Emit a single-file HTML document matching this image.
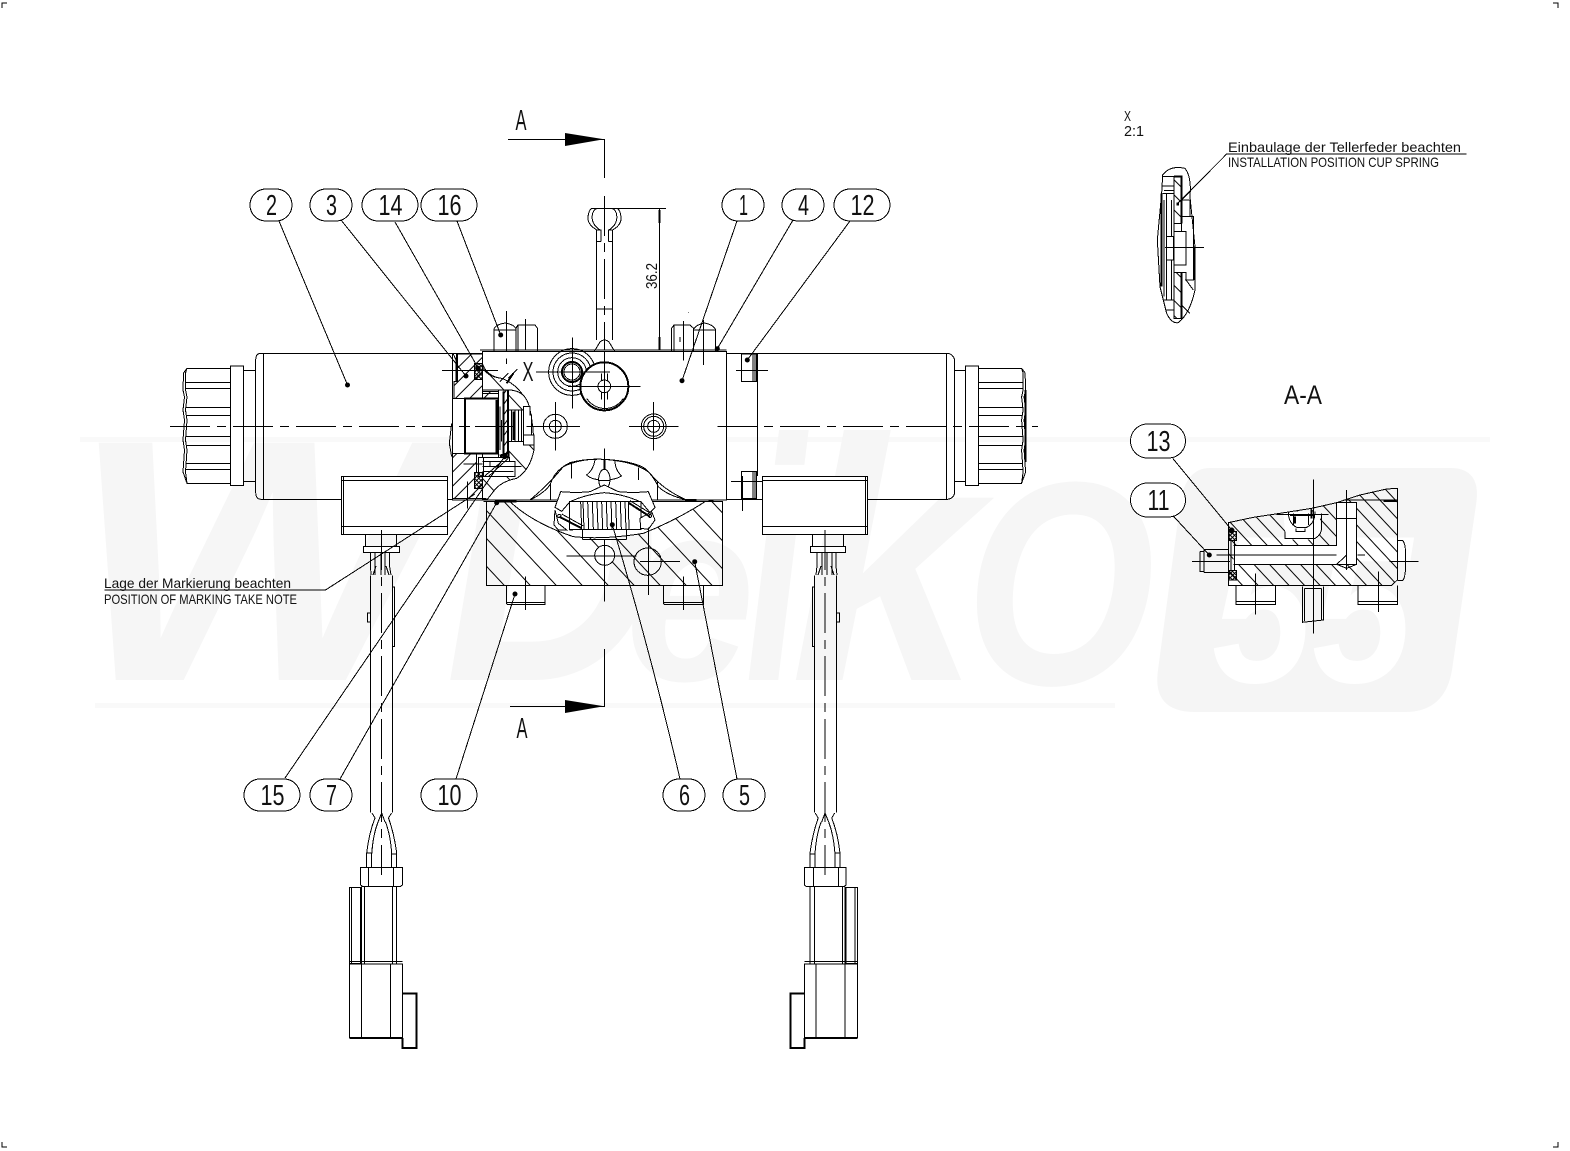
<!DOCTYPE html>
<html><head><meta charset="utf-8"><title>Widerko valve assembly</title>
<style>
html,body{margin:0;padding:0;background:#fff}
svg{display:block}
.l *,.l{fill:none;stroke:#000;stroke-width:1;vector-effect:non-scaling-stroke}
.l .t{stroke-width:2}
.l .w{fill:#fff}
.l .hp{fill:url(#hp)}
.l .hm{fill:url(#hm)}
.l .hs{fill:url(#hs)}
.l .ha{fill:url(#ha)}
.l .hx{fill:url(#hx)}
.l .hr{fill:url(#hr)}
.l .c{stroke-dasharray:40 7 9 7}
text{font-family:"Liberation Sans",sans-serif;fill:#111}
text.wm{font-weight:bold;font-style:italic;fill:#f6f6f6}
text.wn{font-weight:bold;font-style:italic;fill:#fff}
.b{font-size:29px;text-anchor:middle}
.s{font-size:14px}
</style></head><body>
<svg xmlns="http://www.w3.org/2000/svg" width="1570" height="1151" viewBox="0 0 1570 1151">
<defs>
<pattern id="hp" width="57" height="57" patternUnits="userSpaceOnUse" patternTransform="rotate(47)"><rect width="57" height="3" fill="#000"/></pattern>
<pattern id="hm" width="30" height="30" patternUnits="userSpaceOnUse" patternTransform="rotate(-45)"><rect width="30" height="3" fill="#000"/></pattern>
<pattern id="hs" width="32" height="32" patternUnits="userSpaceOnUse" patternTransform="rotate(45)"><rect width="32" height="3" fill="#000"/></pattern>
<pattern id="ha" width="34" height="34" patternUnits="userSpaceOnUse" patternTransform="rotate(47)"><rect width="34" height="3" fill="#000"/></pattern>
<pattern id="hx" width="9" height="9" patternUnits="userSpaceOnUse" patternTransform="rotate(45)"><rect width="9" height="3" fill="#000"/><rect width="3" height="9" fill="#000"/></pattern>
<pattern id="hr" width="18" height="18" patternUnits="userSpaceOnUse" patternTransform="rotate(-55)"><rect width="18" height="3" fill="#000"/></pattern>
</defs>

<!-- watermark -->
<g>
<rect x="80" y="437" width="1410" height="5" fill="#f9f9f9"/>
<rect x="95" y="703" width="1020" height="5" fill="#f9f9f9"/>
<text class="wm" x="70" y="680" font-size="345" textLength="370" lengthAdjust="spacingAndGlyphs">W</text>
<text class="wm" x="445" y="680" font-size="345" textLength="215" lengthAdjust="spacingAndGlyphs">D</text>
<text class="wm" x="625" y="680" font-size="260" textLength="130" lengthAdjust="spacingAndGlyphs">e</text>
<text class="wm" x="745" y="680" font-size="345" textLength="60" lengthAdjust="spacingAndGlyphs">i</text>
<text class="wm" x="790" y="680" font-size="345" textLength="190" lengthAdjust="spacingAndGlyphs">k</text>
<text class="wm" x="965" y="684" font-size="290" textLength="190" lengthAdjust="spacingAndGlyphs">O</text>
<path d="M1210,468 H1450 Q1482,468 1476,505 L1452,670 Q1445,712 1405,712 H1195 Q1152,712 1158,670 L1180,505 Q1185,468 1210,468Z" fill="#f5f5f5"/>
<text class="wn" x="1212" y="682" font-size="210" textLength="200" lengthAdjust="spacingAndGlyphs">55</text>
</g>

<g class="l" shape-rendering="crispEdges">
<!-- corner marks -->
<path d="M2,8 V3 H7 M1553,3 H1558 V8 M2,1142 V1147 H7 M1553,1147 H1558 V1142"/>

<!-- left knob, mirrored to the right -->
<g>
<path d="M230.3,368.3 H187 L183.5,373 L183,390 L184.5,397 L183,410 L184.5,420 L183,440 L184.5,450 L183,472 L187,483.3 H230.3"/>
<path d="M187,368.3 L185.5,373 L185.5,390 L187,397 L185.5,410 L187,420 L185.5,440 L187,450 L185.5,472 L187,483.3"/>
<path d="M186,382.3 H230 M186,388.3 H230 M186,407.3 H230 M186,415.3 H230 M186,436.3 H230 M186,445.3 H230 M186,463.3 H230 M186,469.3 H230"/>
<rect class="w" x="230.3" y="366" width="13" height="119.7"/>
<path d="M243.3,370.3 H255.7 M243.3,481.3 H255.7"/>
</g>
<g transform="translate(1208.6 0) scale(-1 1)">
<path d="M230.3,368.3 H187 L183.5,373 L183,390 L184.5,397 L183,410 L184.5,420 L183,440 L184.5,450 L183,472 L187,483.3 H230.3"/>
<path d="M187,368.3 L185.5,373 L185.5,390 L187,397 L185.5,410 L187,420 L185.5,440 L187,450 L185.5,472 L187,483.3"/>
<path class="t" d="M183,390 V462"/>
<path d="M186,382.3 H230 M186,388.3 H230 M186,407.3 H230 M186,415.3 H230 M186,436.3 H230 M186,445.3 H230 M186,463.3 H230 M186,469.3 H230"/>
<rect class="w" x="230.3" y="366" width="13" height="119.7"/>
<path d="M243.3,370.3 H254 M243.3,481.3 H254"/>
</g>

<!-- coils -->
<path d="M452,353.3 H261 Q255.7,353.3 255.7,360 V492 Q255.7,499.3 261,499.3 H341.7"/>
<path d="M263.7,353.3 V499.3"/>
<path d="M447.3,499.3 H482"/>
<path d="M712,353.3 H948 Q954.7,355 954.7,362 V491 Q954.7,498 948,499.3 H867.7"/>
<path d="M946.7,353.3 V499.3 M757.3,353.3 V476 M726,499.3 H762.3"/>

<!-- small right rects -->
<rect x="741.3" y="354" width="15.4" height="27.3"/>
<path d="M753,354 V381 M755,354 V381"/>
<rect x="741.3" y="471.3" width="15.4" height="27.4"/>
<path d="M753,471 V499 M755,471 V499"/>
<path class="t" d="M742,476 V499"/>
<path d="M736,370.3 H768 M731,481.3 H768 M742.5,498 V511"/>

<!-- connector boxes -->
<rect class="w" x="341.7" y="476.3" width="105.6" height="58"/>
<path d="M343.7,476.3 V534 M341.7,480.3 H447.3 M341.7,526.3 H447.3"/>
<rect class="w" x="762.3" y="476.3" width="105.4" height="58"/>
<path d="M865.7,476.3 V534 M762.3,480.3 H867.7 M762.3,526.3 H867.7"/>
<path d="M365.3,534 V546 M396.7,534 V546 M812.3,534 V546 M843.7,534 V546"/>
<rect class="w" x="363.3" y="546.3" width="36.4" height="6"/>
<rect class="w" x="810.3" y="546.3" width="35.4" height="6"/>

<!-- cable left -->
<path d="M370.5,552 V566 L371,575 M375,552 V575 M381,552 V575 M385,552 V575 M389.5,552 V566 L391,575 M376,566 L373,575 M386,566 L389,575"/>
<path d="M370.5,575.3 V812.7 M392.3,575.3 V812.7"/>
<path d="M392.3,587 H394.5 V646.7 H392.3 M370.5,613 H367.5 V622 H370.5"/>
<!-- cable right -->
<path d="M817,552 V566 L816,575 M822,552 V575 M827,552 V575 M832,552 V575 M836,552 V566 L837,575 M821,566 L818,575 M831,566 L834,575"/>
<path d="M814.5,575.3 V812.7 M836.3,575.3 V812.7"/>
<path d="M814.5,587 H812.5 V646.7 H814.5 M836.3,613 H839.5 V622 H836.3"/>

<!-- connector lower left -->
<g>
<path d="M375,818 Q369,833 366.7,853 V867 M378,822 Q373,835 371.7,854 V867 M381.7,813 L378,822 M381.7,813 L385,822 M388.5,818 Q394,833 396.7,853 V867 M385.5,822 Q390.5,835 391.7,854 V867 M366.7,853 H371.7 M391.7,854 H396.7 M372,813 L375,818 M391.5,813 L388.5,818"/>
<path d="M360.7,867.7 H402.3 V885 L400,886.7 H363 L360.7,885 Z"/>
<path d="M368.3,867.7 V886.7 M393.3,867.7 V886.7"/>
<path d="M361.7,886.7 V963.3 M396.7,886.7 V963.3 M364.3,886.7 V963.3 M392.3,886.7 V963.3"/>
<rect x="349.3" y="887.3" width="11.4" height="76"/>
<path d="M351.7,887.3 V963"/>
<path d="M349.3,964 H402.3 V1038 M349.3,964 V1038 M361.7,964 V1038 M390.7,964 V1038"/>
<path d="M349.3,961.5 H402.3"/>
<path class="t" d="M349.3,1038 H402.3"/>
<path class="t" d="M402.3,993.3 H416.3 V1048 H402.3 V1038"/>
</g>
<g transform="translate(1206.7 0) scale(-1 1)">
<path d="M375,818 Q369,833 366.7,853 V867 M378,822 Q373,835 371.7,854 V867 M381.7,813 L378,822 M381.7,813 L385,822 M388.5,818 Q394,833 396.7,853 V867 M385.5,822 Q390.5,835 391.7,854 V867 M366.7,853 H371.7 M391.7,854 H396.7 M372,813 L375,818 M391.5,813 L388.5,818"/>
<path d="M360.7,867.7 H402.3 V885 L400,886.7 H363 L360.7,885 Z"/>
<path d="M368.3,867.7 V886.7 M393.3,867.7 V886.7"/>
<path d="M361.7,886.7 V963.3 M396.7,886.7 V963.3 M364.3,886.7 V963.3 M392.3,886.7 V963.3"/>
<rect x="349.3" y="887.3" width="11.4" height="76"/>
<path d="M351.7,887.3 V963"/>
<path d="M349.3,964 H402.3 V1038 M349.3,964 V1038 M361.7,964 V1038 M390.7,964 V1038"/>
<path d="M349.3,961.5 H402.3"/>
<path class="t" d="M349.3,1038 H402.3"/>
<path class="t" d="M402.3,993.3 H416.3 V1048 H402.3 V1038"/>
</g>

<!-- centre lines of cables and coils -->
<path class="c" d="M381.7,530 V875"/>
<path class="c" d="M825,530 V875"/>
<path class="c" d="M170,426.3 H452"/>
<path class="c" d="M717,426.3 H1038"/>

<!-- top rod, ball end, section line -->
<path d="M508,139.3 H604.3 V178"/>
<path d="M588.3,215 Q586,224 597,230 H601 V241.7 M592.3,215 Q591,224 600,230 M620.7,215 Q623,224 612.7,230 H608.7 V241.7 M616.7,215 Q618,224 609,230 M596.7,241.7 H601 M608.7,241.7 H612.7"/>
<path d="M588.3,215 Q589,210 592,208.3 M592.3,215 Q593,210 597,208.3 M620.7,215 Q620,210 617,208.3 M616.7,215 Q616,210 612,208.3"/>
<path d="M596.7,230 V340 M612.7,230 V340 M596.7,309 H612.7"/>
<path d="M594.5,351 L600,342 Q604.5,338 609,342 L614.5,351"/>
<path d="M592,208.3 H666 M659.3,208.3 V350"/>
<path class="t" d="M659.3,210 V223 M659.3,337 V350"/>
<path class="c" d="M604.3,196 V350"/>

<!-- top bolts -->
<path d="M494,351 V330 Q494,325 505,323 Q516,325 516,330 V351 M494,330 H516"/>
<path d="M516,351 V328 L518,325 H535 L537.3,328 V351 M518,325 V351"/>
<path d="M671.7,351 V328 L674,325 H690 L693.3,328 V351 M674,325 V351"/>
<path d="M693.3,351 V330 Q695,325 704.5,323 Q714,325 715.7,330 V351 M693.3,330 H715.7"/>
<path d="M506.5,321 V362 M525.7,320 V342 M683.3,322 V360 M703.5,322 V364"/>
<path d="M688,312.5 H688.5 M680,337 V342"/>

<!-- main block and section: zoom coordinates -->
<g transform="translate(430 310) scale(.33333)">
<path class="w" d="M157,124 H889 V570 H157 Z" />
<path stroke="none" class="w" d="M68,130 H157 V570 H68 Z"/>
<path d="M150,120 H889 M160,124 H889 M889,124 V570 M160,570 H889" />
<path d="M60,130 H157 M157,124 V570 M68,130 V565 H170"/>
<path d="M80,132 V215 M70,132 L78,150 V215 H70"/>

<!-- hatched housing -->
<path class="hm" stroke="none" d="M82,132 H157 V245 H215 V265 H72 V215 H82 Z"/>
<path class="hm" stroke="none" d="M68,430 H140 V487 H157 V566 H68 Z"/>
<path class="hp" stroke="none" d="M157,170 Q170,200 215,205 Q270,225 298,290 Q312,350 312,420 Q300,480 260,505 Q210,515 190,545 L172,568 H157 V500 H250 V455 H235 V240 H157 Z"/>
<path d="M157,160 Q170,200 215,205 Q270,225 298,290 Q312,350 312,420 Q300,480 260,505 Q210,515 190,545 L172,568"/>
<path d="M68,265 H105 M68,430 H140 M65,340 L58,400 L65,440"/>
<!-- spool bore -->
<rect class="w t" x="105" y="265" width="100" height="165"/>
<path class="t" d="M200,270 V430"/>
<path d="M157,240 H215 V250 H157 M205,265 L215,250"/>
<!-- cup spring stack -->
<rect class="w" x="205" y="240" width="30" height="215"/>
<path class="hr" d="M222,240 H233 V455 H222 Z"/>
<path d="M210,290 V420 M215,330 V395 M205,340 V350"/>
<path class="t" d="M202,280 V430 M220,245 V435"/>
<path class="w" d="M235,300 H280 V395 H235 Z"/>
<path d="M245,300 V395 M255,300 V395 M265,300 V395 M275,300 V395"/>
<path class="t" d="M250,305 V390"/>
<path class="w" d="M280,290 H300 V315 H305 V375 H280 Z"/>
<path class="w" d="M280,375 H312 V405 H280 Z"/>
<path class="w" d="M235,240 Q285,240 298,290"/>
<path class="w t" d="M212,436 Q222,465 235,455 V430 Z"/>
<circle cx="223" cy="442" r="9"/>
<!-- lower internal parts -->
<path class="w" d="M145,442 H238 V455 H255 V500 H145 Z"/>
<path d="M158,455 H240 M158,470 H275 M158,484 H250 M160,442 V500 M180,455 V470 M145,445 V495 M100,462 H158"/>
<path d="M162,500 L215,455 M175,500 L235,445 M210,215 L235,190"/>
<!-- seals -->
<rect class="hx" x="133" y="160" width="24" height="48"/>
<rect class="hx" x="133" y="487" width="24" height="48"/>
<path d="M112,515 V595"/>

<!-- section X mark -->
<path d="M318,186 H358"/>
<path d="M262,178 L235,205"/>
<path class="t" d="M250,190 L230,220"/>

<!-- circles -->
<circle cx="426" cy="186" r="70"/>
<circle cx="426" cy="186" r="57"/>
<circle cx="426" cy="186" r="43"/>
<circle class="t" cx="426" cy="186" r="30"/>
<circle cx="426" cy="186" r="24"/>
<circle class="w t" cx="523" cy="229" r="72"/>
<path d="M470,265 A65,65 0 0 0 580,265"/>
<circle class="w" cx="523" cy="229" r="19"/>
<path d="M514,190 V212 M532,190 V212 M514,246 V268 M532,246 V268"/>
<circle cx="376" cy="349" r="36"/><circle cx="376" cy="349" r="18"/>
<circle cx="671" cy="349" r="37"/><circle cx="671" cy="349" r="18"/><circle cx="671" cy="349" r="30"/>
<path d="M427,82 V295 M318,186 H540 M414,229 H632 M523,124 V300"/>
<path d="M0,349 H65 M87,349 H120 M135,349 H255 M290,349 H450 M597,349 H745 M862,349 H960 M376,276 V422 M671,276 V422"/>
<path d="M36,181 H204"/>
<path d="M229,3 V118 M229,145 V162 M287,27 V118 M760,33 V152 M820,30 V165"/>

<!-- arch -->
<path class="w" stroke="none" d="M300,570 Q360,520 400,470 Q450,445 520,448 Q620,455 660,490 Q700,540 770,570 Z"/>
<path d="M300,570 Q350,545 362,520 Q375,480 420,458 Q470,445 520,448 Q600,452 640,472 Q665,490 685,530 Q710,555 770,570"/>
<path d="M362,520 V570 M425,458 V505 M625,472 V510 M682,515 V570 M495,450 Q490,480 470,495 Q485,510 523,510 M555,452 Q555,480 575,498 Q555,510 523,510"/>
<ellipse class="w" cx="523" cy="508" rx="17" ry="30"/>
<path d="M505,512 H541 M523,415 V480"/>
<path class="t" d="M523,450 V480"/>
</g>

<!-- subplate -->
<g transform="translate(430 310) scale(.33333)">
<path class="w hp" d="M170,575 H240 Q310,640 430,680 Q520,690 640,670 Q740,630 825,575 H877 V826 H170 Z"/>
<path class="w" stroke="none" d="M240,575 Q310,640 430,680 Q520,690 640,670 Q740,630 825,575 Z"/>
<path d="M240,575 Q310,640 430,680 Q520,690 640,670 Q740,630 825,575"/>
<path d="M160,575 H877"/>
<path class="t" d="M195,575 H260 M765,570 H800 M835,572 H850"/>
<!-- piston -->
<path class="w" d="M375,592 L392,545 L440,548 L480,545 L523,525 L565,545 L610,548 L655,545 L675,592 L660,608 L633,575 L420,575 L395,604 Z"/>
<path d="M420,575 Q470,552 523,548 Q580,552 630,575"/>
<!-- spring -->
<rect class="w" x="418" y="575" width="215" height="83"/>
<path d="M458,658 V688 M590,658 V688 M458,688 H590 M418,660 L450,658"/>
<g class="t">
<path d="M452,575 L455,658 M459,575 L462,658 M473,575 L476,658 M487,575 L490,658 M501,575 L504,658 M515,575 L518,658 M529,575 L532,658 M543,575 L546,658 M557,575 L560,658 M571,575 L574,658 M585,575 L588,658 M595,575 L597,658"/>
</g>
<path class="w" d="M375,600 L385,640 L410,660 L385,660 L372,645 Z M630,625 L665,605 L675,630 L655,658 L632,655 Z"/>
<path class="t" d="M388,620 L455,655 M595,578 L660,620"/>
<path d="M395,612 L460,648 M600,572 L665,612"/>
<circle cx="388" cy="618" r="5"/><circle cx="660" cy="618" r="5"/>
<!-- bottom holes -->
<circle class="w" cx="524" cy="736" r="30"/>
<circle cx="653" cy="755" r="41" fill="url(#hx)"/>
<path d="M410,738 H620 M630,755 H750 M656,652 V855 M523,690 V875"/>
<!-- bolts -->
<path d="M229,826 V880 L233,884 H345 V826 M700,826 V880 L704,884 H820 V826 M229,878 H345 M700,878 H820"/>
<path d="M287,800 V900 M760,800 V900"/>
</g>
<path d="M430,426.3 H451"/>

<!-- A-A arrow bottom -->
<path d="M510,706.3 H604.3 V649"/>
<path class="c" d="M604.3,592 V601"/>

<!-- leaders -->
<path d="M279,221 L347.5,385 M341,220 L466,376 M395,222 L478.3,368.3 M457,221 L500.7,335 M737,221 L682,380.7 M793,220 L717.3,348.7 M850,221 L747.3,360"/>
<path d="M285,778 L504.5,456.7 M340,779 L496.7,502.7 M456,779 L515,594 M680,779 Q650,650 612.3,524.7 M737,779 L694.7,561.7"/>
<path d="M104.5,590 H325.5 L475,494"/>
<path d="M1226.7,154 H1466.7 M1226.7,154 L1178,203"/>

<!-- balloons -->
<g>
<rect class="w" x="250" y="189" width="42" height="32" rx="16"/>
<rect class="w" x="310" y="189" width="42" height="32" rx="16"/>
<rect class="w" x="362" y="189" width="56" height="32" rx="16"/>
<rect class="w" x="421" y="189" width="56" height="32" rx="16"/>
<rect class="w" x="722" y="189" width="42" height="32" rx="16"/>
<rect class="w" x="782" y="189" width="42" height="32" rx="16"/>
<rect class="w" x="834" y="189" width="56" height="32" rx="16"/>
<rect class="w" x="244" y="779" width="56" height="32" rx="16"/>
<rect class="w" x="310" y="779" width="42" height="32" rx="16"/>
<rect class="w" x="421" y="779" width="56" height="32" rx="16"/>
<rect class="w" x="663" y="779" width="42" height="32" rx="16"/>
<rect class="w" x="723" y="779" width="42" height="32" rx="16"/>
<rect class="w" x="1130.5" y="424" width="55" height="34" rx="17"/>
<rect class="w" x="1130.5" y="483" width="55" height="34" rx="17"/>
</g>

<!-- detail X -->
<g transform="translate(1110 100) scale(.33333)">
<path d="M158,225 Q180,195 225,205 Q245,230 240,290 L255,440 V570 Q240,640 205,668 Q185,672 170,640 L150,560 L142,420 L155,280 Z"/>
<path class="hs" d="M192,230 H215 V370 H192 Z M192,518 H215 V655 H192 Z"/>
<path class="t" d="M192,230 H215 V370 M215,518 V655"/>
<path d="M158,230 H192 M158,258 H192 M162,272 H192 M192,230 V655 M170,280 V600 M158,280 L192,280"/>
<path class="t" d="M155,280 V560"/>
<path d="M162,300 V590 M185,300 V410 M185,480 V600 M195,370 H215 V395 H195 M192,395 H228 V495 H192 M170,410 H190 V480 H170 M225,350 H250 V540 H225 M215,300 H240 V350 H215 M215,300 L240,275 M215,518 H228 V540 M228,540 L250,570 M215,615 L240,640 M170,630 H192 M162,600 H192"/>
<path d="M165,443 H282"/>
<path class="t" d="M252,440 V540"/>
<rect x="199" y="308" width="8" height="8" style="fill:#000;stroke:none"/>
</g>

<!-- section A-A -->
<g transform="translate(1120 420) scale(.33333)">
<path class="ha" d="M325,308 L400,292 L480,280 L575,265 L650,248 L720,225 L800,207 L832,205 V480 L815,496 H325 Z"/>
<path class="w" d="M490,275 H600 V340 Q600,358 575,358 H510 Q498,355 495,335 Z" stroke="none" style="stroke:none"/>
<path d="M495,335 V355 H585 Q605,345 605,320 V280"/>
<path d="M325,308 L400,292 L480,280 L575,265 L650,248 L720,225 L800,207 L832,205 V480 L815,496 H325 Z"/>
<path class="w" d="M340,376 H650 L680,400 L650,433 H340 Z" style="stroke:none"/>
<path class="w" d="M650,248 H710 V433 H680 L650,433 V376 Z" style="stroke:none"/>
<path d="M340,376 H650 V248 H710 V433 H340 M650,433 L680,405 M650,433 L680,445 L710,433 M650,295 H710"/>
<path class="t" d="M790,243 H830"/>
<path d="M670,240 H832"/>
<!-- fitting -->
<path d="M505,275 Q505,310 530,322 H560 Q585,310 585,275 M520,280 V315 M565,280 V315 M528,325 V335 H555 V325 M470,283 H625"/>
<path class="t" d="M510,285 H580 M525,290 V310 M575,270 V295"/>
<!-- o-ring and left plug -->
<path class="hx" d="M327,335 H350 V362 H327 Z M327,452 H350 V480 H327 Z"/>
<path d="M333,362 V452 M343,362 V452"/>
<circle cx="335" cy="332" r="7" style="fill:#000"/>
<path d="M252,388 H325 M240,394 H252 M240,394 V455 H252 M252,388 V458 M252,458 H325"/>
<path d="M832,362 H848 Q858,370 857,420 Q858,470 848,482 H832"/>
<!-- bolts, pin -->
<path d="M348,496 V553 H467 V496 M348,545 H467 M714,496 V553 H832 V496 M714,545 H832"/>
<path d="M547,500 V607 L610,600 V500 M553,505 H605 M553,505 V603 M605,505 V600"/>
<path d="M216,424 H330 M808,424 H895 M406,460 V584 M775,455 V576 M580,178 V640"/>
<path class="c" style="stroke-dasharray:120 21 27 21" d="M290,405 H735"/>
<path class="c" style="stroke-dasharray:120 21 27 21" d="M679,210 V450"/>
</g>

<!-- leaders 13/11 -->
<path d="M1172.7,458.3 L1231.7,530 M1173,515.7 L1209.3,555"/>
</g>

<!-- arrowheads and dots -->
<g fill="#000">
<polygon points="565,133 604,139.3 565,146"/>
<polygon points="565,700 604,706.3 565,713"/>
<circle cx="347.5" cy="385" r="2.5"/><circle cx="466" cy="376" r="2.5"/><circle cx="478.3" cy="368.3" r="2.5"/><circle cx="500.7" cy="335" r="2.5"/>
<circle cx="682" cy="380.7" r="2.5"/><circle cx="717.3" cy="348.7" r="2.5"/><circle cx="747.3" cy="360" r="2.5"/>
<circle cx="504.7" cy="456.7" r="2.5"/><circle cx="496.7" cy="502.7" r="2.5"/><circle cx="515" cy="594" r="2.5"/>
<circle cx="612.3" cy="524.7" r="2.5"/><circle cx="694.7" cy="561.7" r="2.5"/><circle cx="1209.3" cy="555" r="2.5"/><circle cx="1231.7" cy="530" r="2.5"/>
</g>

<!-- labels -->
<g>
<text class="b" x="271.5" y="215" textLength="11" lengthAdjust="spacingAndGlyphs">2</text>
<text class="b" x="331.5" y="215" textLength="11" lengthAdjust="spacingAndGlyphs">3</text>
<text class="b" x="390.5" y="215" textLength="24" lengthAdjust="spacingAndGlyphs">14</text>
<text class="b" x="449.5" y="215" textLength="24" lengthAdjust="spacingAndGlyphs">16</text>
<text class="b" x="743.5" y="215" textLength="9" lengthAdjust="spacingAndGlyphs">1</text>
<text class="b" x="803.5" y="215" textLength="11" lengthAdjust="spacingAndGlyphs">4</text>
<text class="b" x="862.5" y="215" textLength="24" lengthAdjust="spacingAndGlyphs">12</text>
<text class="b" x="272.5" y="805" textLength="24" lengthAdjust="spacingAndGlyphs">15</text>
<text class="b" x="331.5" y="805" textLength="11" lengthAdjust="spacingAndGlyphs">7</text>
<text class="b" x="449.5" y="805" textLength="24" lengthAdjust="spacingAndGlyphs">10</text>
<text class="b" x="684.5" y="805" textLength="11" lengthAdjust="spacingAndGlyphs">6</text>
<text class="b" x="744.5" y="805" textLength="11" lengthAdjust="spacingAndGlyphs">5</text>
<text class="b" x="1158.5" y="451" textLength="24" lengthAdjust="spacingAndGlyphs">13</text>
<text class="b" x="1158.5" y="510" textLength="22" lengthAdjust="spacingAndGlyphs">11</text>
<text x="515.5" y="130" font-size="29" textLength="11" lengthAdjust="spacingAndGlyphs">A</text>
<text x="516.5" y="738" font-size="29" textLength="11" lengthAdjust="spacingAndGlyphs">A</text>
<text x="522.5" y="381" font-size="28" textLength="11" lengthAdjust="spacingAndGlyphs">X</text>
<text x="1284" y="404" font-size="27" textLength="38" lengthAdjust="spacingAndGlyphs">A-A</text>
<text transform="translate(657 289) rotate(-90)" font-size="16" textLength="26" lengthAdjust="spacingAndGlyphs">36.2</text>
<text x="1124" y="121" font-size="15" textLength="7" lengthAdjust="spacingAndGlyphs">X</text>
<text x="1124" y="136" font-size="15" textLength="20" lengthAdjust="spacingAndGlyphs">2:1</text>
<text class="s" x="1228" y="152" textLength="233" lengthAdjust="spacingAndGlyphs">Einbaulage der Tellerfeder beachten</text>
<text class="s" x="1228" y="167" textLength="211" lengthAdjust="spacingAndGlyphs">INSTALLATION POSITION CUP SPRING</text>
<text class="s" x="104" y="588" textLength="187" lengthAdjust="spacingAndGlyphs">Lage der Markierung beachten</text>
<text class="s" x="104" y="604" textLength="193" lengthAdjust="spacingAndGlyphs">POSITION OF MARKING TAKE NOTE</text>
</g>
</svg>
</body></html>
